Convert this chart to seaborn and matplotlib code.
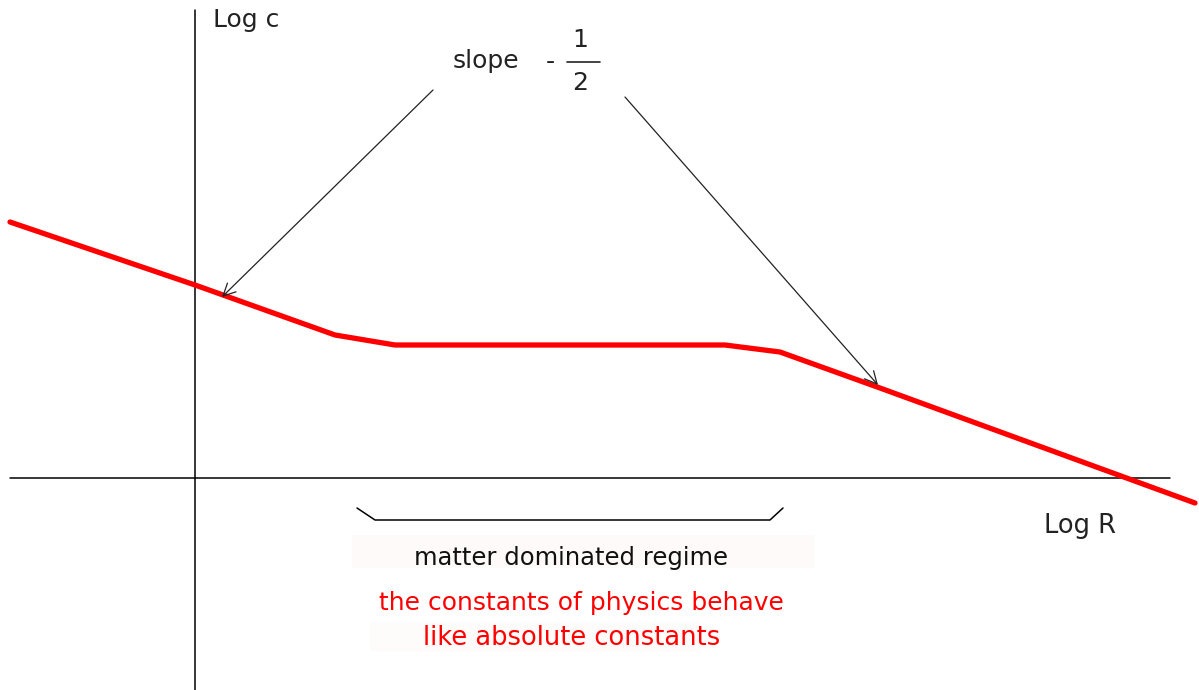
#Importing Libraries and default settings
import matplotlib
matplotlib.use("Agg")
import matplotlib.pyplot as plt
import seaborn as sns
from matplotlib.patches import Rectangle

sns.set_style("white")
plt.rcParams["font.family"] = ["DejaVu Sans"]

#Curve data (log R, log c), origin where the axes cross
log_r = [-1.85, 0.0, 1.40, 2.00, 5.30, 5.85, 6.85, 10.00]
log_c = [2.56, 1.93, 1.43, 1.33, 1.33, 1.26, 0.90, -0.25]

#Bracket under the flat part
bracket_x = [1.62, 1.80, 5.75, 5.88]
bracket_y = [-0.30, -0.42, -0.42, -0.30]

#Slope arrows: (tail, head)
arrows = [((2.38, 3.88), (0.27, 1.81)),
          ((4.30, 3.81), (6.83, 0.93))]

x_label = "Log R"
y_label = "Log c"
regime_text = "matter dominated regime"
red_lines = ["the constants of physics behave", "like absolute constants"]

#Figure
fig = plt.figure(figsize=(11.99, 6.90), dpi=100)
ax = fig.add_axes([0, 0, 1, 1])
ax.set_xlim(-1.95, 10.04)
ax.set_ylim(-2.12, 4.78)
ax.axis("off")

#Axes lines
ax.plot([-1.85, 9.75], [0, 0], color="black", lw=1.1)
ax.plot([0, 0], [-2.12, 4.68], color="black", lw=1.1)

#Faint boxes behind the labels
ax.add_patch(Rectangle((1.57, -0.89), 4.61, 0.32, color="#fefafa", zorder=0))
ax.add_patch(Rectangle((1.75, -1.72), 3.30, 0.28, color="#fefbfb", zorder=0))

#Red curve
sns.lineplot(x=log_r, y=log_c, sort=False, estimator=None,
             color="#ff0000", lw=3.8, ax=ax, zorder=3)

#Bracket
ax.plot(bracket_x, bracket_y, color="black", lw=1.1)

#Arrows
for tail, head in arrows:
    ax.annotate("", xy=head, xytext=tail,
                arrowprops=dict(arrowstyle="->", lw=0.9, color="#222222",
                                mutation_scale=22, shrinkA=0, shrinkB=0))

#Text
ax.text(0.18, 4.58, y_label, fontsize=18, color="#222222", ha="left", va="center")
ax.text(8.85, -0.48, x_label, fontsize=18.5, color="#222222", ha="center", va="center")
ax.text(2.91, 4.17, "slope", fontsize=18, color="#222222", ha="center", va="center")
ax.text(3.55, 4.16, "-", fontsize=18, color="#222222", ha="center", va="center")
ax.text(3.85, 4.38, "1", fontsize=18, color="#222222", ha="center", va="center")
ax.plot([3.72, 4.05], [4.16, 4.16], color="#222222", lw=1.2)
ax.text(3.85, 3.95, "2", fontsize=18, color="#222222", ha="center", va="center")
ax.text(3.76, -0.80, regime_text, fontsize=17.5, color="#111111", ha="center", va="center")
ax.text(3.86, -1.25, red_lines[0], fontsize=18, color="#ff0000", ha="center", va="center")
ax.text(3.77, -1.60, red_lines[1], fontsize=18.5, color="#ff0000", ha="center", va="center")

fig.savefig("out.png", dpi=100)
plt.close()
